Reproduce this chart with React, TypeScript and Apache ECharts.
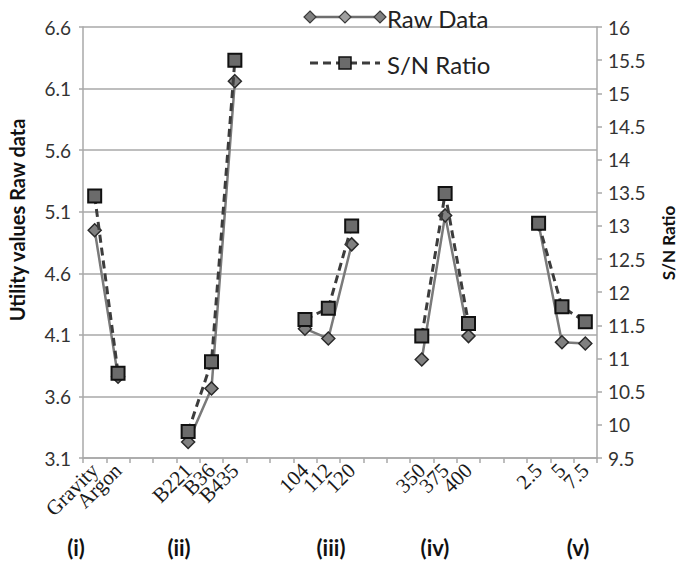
import React, { useEffect, useRef } from "react";
import * as echarts from "echarts";

const categories = ["Gravity", "Argon", "", "", "B221", "B36", "B435", "", "", "104", "112", "120", "", "", "350", "375", "400", "", "", "2.5", "5", "7.5"];
const rawData = [4.95, 3.76, null, null, 3.23, 3.665, 6.16, null, null, 4.15, 4.07, 4.835, null, null, 3.9, 5.07, 4.09, null, null, 5.0, 4.04, 4.03];
const snRatio = [13.45, 10.78, null, null, 9.9, 10.95, 15.5, null, null, 11.59, 11.76, 13.0, null, null, 11.34, 13.49, 11.53, null, null, 13.04, 11.78, 11.555];
const groupLabels = ["(i)", "(ii)", "(iii)", "(iv)", "(v)"];
const groupLabelX = [76, 179, 331, 435, 578];

const SANS = "Lato, 'Open Sans', sans-serif";

function diamond(cx: number, cy: number, r: number, fill: string) {
  return {
    type: "polygon",
    shape: { points: [[cx, cy - r], [cx + r, cy], [cx, cy + r], [cx - r, cy]] },
    style: { fill, stroke: "#3a3a3a", lineWidth: 1.2 },
    z: 10,
  };
}

export default function App() {
  const ref = useRef<HTMLDivElement>(null);
  useEffect(() => {
    document.body.style.margin = "0";
    const chart = echarts.init(ref.current!, null, { renderer: "svg" });
    const option: any = {
      animation: false,
      backgroundColor: "#ffffff",
      grid: { left: 83, right: 82, top: 27, bottom: 104, containLabel: false },
      xAxis: {
        type: "category",
        data: categories,
        boundaryGap: true,
        axisLine: { lineStyle: { color: "#a8a8a8", width: 1.5 } },
        axisTick: { show: true, interval: 0, length: 5, lineStyle: { color: "#a8a8a8", width: 1.5 } },
        axisLabel: {
          interval: 0,
          rotate: 45,
          margin: 9,
          fontFamily: "'Liberation Serif', serif",
          fontSize: 21,
          color: "#1a1a1a",
        },
        splitLine: { show: false },
      },
      yAxis: [
        {
          type: "value",
          min: 3.1,
          max: 6.6,
          interval: 0.5,
          axisLine: { show: true, lineStyle: { color: "#a8a8a8", width: 1.5 } },
          axisTick: { show: true, length: 4, lineStyle: { color: "#a8a8a8", width: 1.5 } },
          axisLabel: { fontFamily: SANS, fontSize: 19, color: "#333", margin: 12 },
          splitLine: { show: true, lineStyle: { color: "#a8a8a8", width: 1.5 } },
        },
        {
          type: "value",
          min: 9.5,
          max: 16,
          interval: 0.5,
          position: "right",
          axisLine: { show: true, lineStyle: { color: "#a8a8a8", width: 1.5 } },
          axisTick: { show: true, length: 5, lineStyle: { color: "#a8a8a8", width: 1.5 } },
          axisLabel: { fontFamily: SANS, fontSize: 19, color: "#333", margin: 11 },
          splitLine: { show: false },
        },
      ],
      series: [
        {
          name: "Raw Data",
          type: "line",
          yAxisIndex: 0,
          data: rawData,
          connectNulls: false,
          symbol: "diamond",
          symbolSize: 13,
          lineStyle: { color: "#7a7a7a", width: 2.5, type: "solid" },
          itemStyle: { color: "#808080", borderColor: "#2a2a2a", borderWidth: 1.5 },
          z: 2,
        },
        {
          name: "S/N Ratio",
          type: "line",
          yAxisIndex: 1,
          data: snRatio,
          connectNulls: false,
          symbol: "rect",
          symbolSize: 13,
          lineStyle: { color: "#3c3c3c", width: 3, type: [8, 5] },
          itemStyle: { color: "#6b6b6b", borderColor: "#111", borderWidth: 2 },
          z: 3,
        },
      ],
      graphic: [
        // legend: Raw Data
        { type: "line", shape: { x1: 310, y1: 17, x2: 380, y2: 17 }, style: { stroke: "#6e6e6e", lineWidth: 2.5 }, z: 9 },
        diamond(310, 17, 6, "#808080"),
        diamond(345, 17, 6, "#a0a0a0"),
        diamond(380, 17, 6, "#808080"),
        {
          type: "text",
          x: 387,
          y: 18,
          style: { text: "Raw Data", fontFamily: SANS, fontSize: 24, fill: "#222", textAlign: "left", textVerticalAlign: "middle" },
          z: 10,
        },
        // legend: S/N Ratio
        { type: "line", shape: { x1: 310, y1: 63, x2: 380, y2: 63 }, style: { stroke: "#3c3c3c", lineWidth: 3, lineDash: [8, 5] }, z: 9 },
        { type: "rect", shape: { x: 339, y: 57, width: 12, height: 12 }, style: { fill: "#6b6b6b", stroke: "#111", lineWidth: 1.5 }, z: 10 },
        {
          type: "text",
          x: 387,
          y: 64,
          style: { text: "S/N Ratio", fontFamily: SANS, fontSize: 24, fill: "#222", textAlign: "left", textVerticalAlign: "middle" },
          z: 10,
        },
        // axis titles
        {
          type: "text",
          x: 17,
          y: 220,
          rotation: Math.PI / 2,
          style: { text: "Utility values Raw data", fontFamily: SANS, fontWeight: "bold", fontSize: 20, fill: "#111", textAlign: "center", textVerticalAlign: "middle" },
        },
        {
          type: "text",
          x: 668,
          y: 243,
          rotation: Math.PI / 2,
          style: { text: "S/N Ratio", fontFamily: SANS, fontWeight: "bold", fontSize: 17, fill: "#111", textAlign: "center", textVerticalAlign: "middle" },
        },
        // group labels
        ...groupLabels.map((t, i) => ({
          type: "text",
          x: groupLabelX[i],
          y: 547,
          style: { text: t, fontFamily: SANS, fontWeight: "bold", fontSize: 22, fill: "#111", textAlign: "center", textVerticalAlign: "middle" },
        })),
      ],
    };
    chart.setOption(option);
    return () => chart.dispose();
  }, []);
  return <div ref={ref} style={{ width: 679, height: 562 }} />;
}
